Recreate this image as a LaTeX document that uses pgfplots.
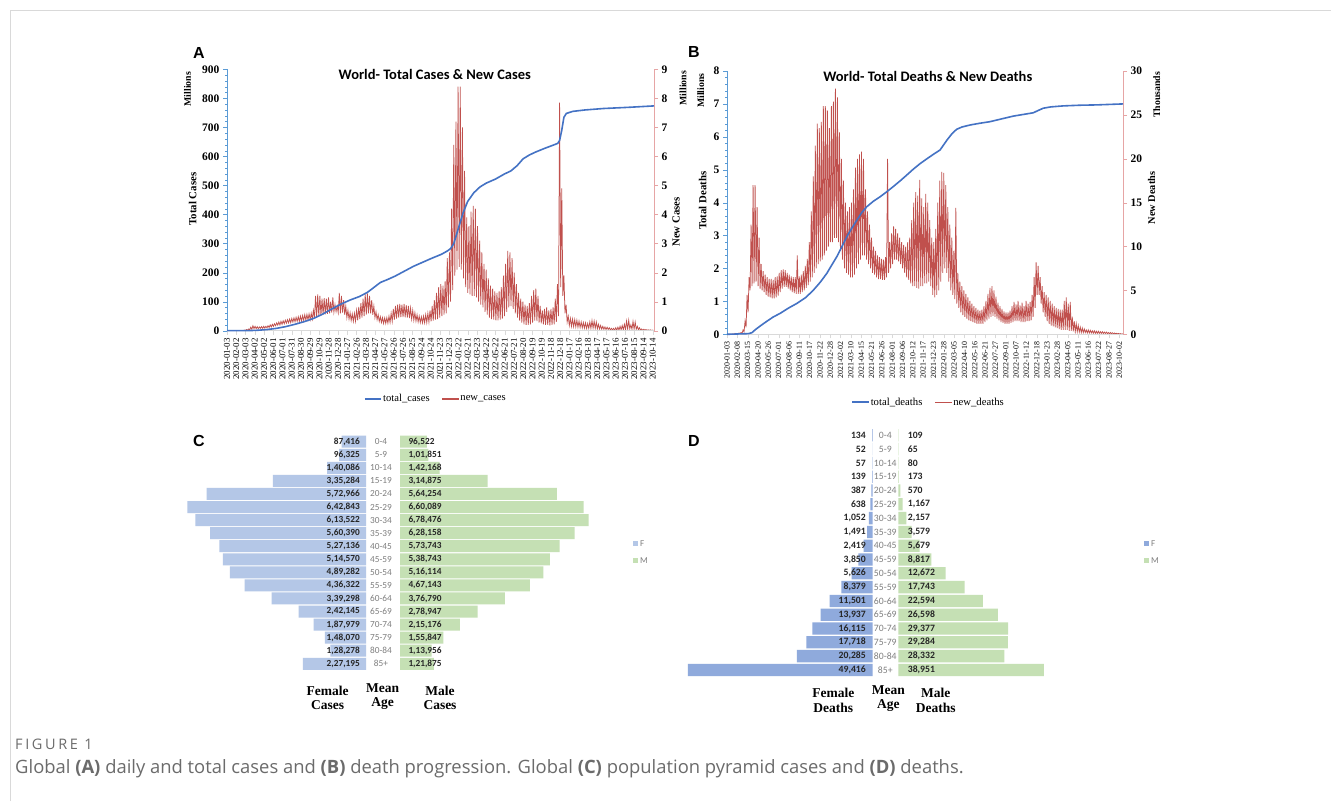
\documentclass[border=0pt]{standalone}
\usepackage{pgfplots}
\pgfplotsset{compat=1.18}
\usepackage{pgfplotstable}
\usepackage{fontspec}
\setmainfont{Liberation Serif}
\newfontfamily\carlito{Carlito}
\newfontfamily\arialf{Liberation Sans}
\newfontfamily\osans{Open Sans}
\newfontfamily\osanssp[LetterSpace=18]{Open Sans}
\definecolor{totblue}{HTML}{4472C4}
\definecolor{newred}{HTML}{C0504D}
\definecolor{laxis}{HTML}{5B9BD5}
\definecolor{raxis}{HTML}{E6A5A5}
\definecolor{gaxis}{HTML}{D9D9D9}
\definecolor{fblueC}{HTML}{B4C7E7}
\definecolor{fblueD}{HTML}{8FAADC}
\definecolor{mgreen}{HTML}{C5E0B4}
\definecolor{lbl}{HTML}{262626}
\definecolor{agegray}{HTML}{7F7F7F}
\definecolor{capgray}{HTML}{6B6B6B}

% weekly high / low of daily new cases (millions)
\pgfplotstableread[row sep=\\]{v\\
0\\0\\ 0\\0\\ 0\\0\\ 0\\0\\ 0\\0\\ 0\\0\\ 0.01\\0\\ 0.01\\0\\ 0.02\\0.01\\ 0.04\\0.02\\
0.06\\0.03\\ 0.12\\0.05\\ 0.17\\0.07\\ 0.15\\0.07\\ 0.14\\0.07\\ 0.13\\0.08\\ 0.14\\0.08\\ 0.15\\0.09\\ 0.15\\0.1\\ 0.17\\0.11\\
0.2\\0.13\\ 0.22\\0.15\\ 0.24\\0.17\\ 0.27\\0.19\\ 0.3\\0.2\\ 0.32\\0.22\\ 0.34\\0.24\\ 0.36\\0.26\\ 0.38\\0.27\\ 0.4\\0.28\\
0.42\\0.3\\ 0.44\\0.31\\ 0.46\\0.32\\ 0.48\\0.32\\ 0.5\\0.33\\ 0.52\\0.35\\ 0.55\\0.36\\ 0.56\\0.37\\ 0.58\\0.38\\ 0.6\\0.4\\
0.7\\0.43\\ 1.2\\0.46\\ 1.25\\0.5\\ 1.2\\0.52\\ 1.1\\0.55\\ 1.12\\0.56\\ 1.1\\0.58\\ 1.15\\0.6\\ 1.0\\0.62\\ 1.15\\0.64\\
0.9\\0.66\\ 0.85\\0.62\\ 1.3\\0.6\\ 1.2\\0.62\\ 1.05\\0.55\\ 0.85\\0.45\\ 0.7\\0.4\\ 0.62\\0.35\\ 0.58\\0.32\\ 0.6\\0.33\\
0.7\\0.36\\ 0.82\\0.4\\ 0.95\\0.45\\ 1.1\\0.5\\ 1.25\\0.55\\ 1.28\\0.6\\ 1.2\\0.6\\ 1.05\\0.55\\ 0.85\\0.45\\ 0.65\\0.38\\
0.55\\0.32\\ 0.48\\0.28\\ 0.45\\0.25\\ 0.44\\0.25\\ 0.45\\0.26\\ 0.5\\0.28\\ 0.6\\0.32\\ 0.75\\0.38\\ 0.85\\0.42\\ 0.9\\0.45\\
0.92\\0.47\\ 0.9\\0.47\\ 0.92\\0.46\\ 0.88\\0.45\\ 0.85\\0.43\\ 0.78\\0.4\\ 0.7\\0.36\\ 0.62\\0.33\\ 0.55\\0.3\\ 0.5\\0.28\\
0.48\\0.27\\ 0.5\\0.27\\ 0.55\\0.28\\ 0.6\\0.3\\ 0.7\\0.32\\ 0.85\\0.35\\ 1.05\\0.38\\ 1.3\\0.4\\ 1.5\\0.45\\ 1.6\\0.5\\
1.55\\0.55\\ 1.7\\0.6\\ 2.5\\0.8\\ 2.7\\1.0\\ 4.2\\1.4\\ 6.4\\1.9\\ 7.2\\2.1\\ 8.4\\2.2\\ 8.4\\2.1\\ 7.0\\1.8\\
5.5\\1.5\\ 3.9\\1.3\\ 3.6\\1.25\\ 4.1\\1.2\\ 4.3\\1.2\\ 4.2\\1.15\\ 3.6\\1.0\\ 3.1\\0.9\\ 2.7\\0.8\\ 2.3\\0.65\\
2.1\\0.55\\ 1.8\\0.45\\ 1.55\\0.4\\ 1.45\\0.38\\ 1.35\\0.36\\ 1.3\\0.36\\ 1.35\\0.38\\ 1.5\\0.42\\ 1.9\\0.5\\ 2.3\\0.65\\
2.75\\0.8\\ 2.7\\0.85\\ 2.5\\0.75\\ 2.0\\0.6\\ 1.6\\0.45\\ 1.3\\0.35\\ 1.1\\0.28\\ 1.0\\0.22\\ 0.9\\0.2\\ 0.85\\0.2\\
0.95\\0.22\\ 1.2\\0.28\\ 1.4\\0.35\\ 1.45\\0.33\\ 1.2\\0.28\\ 0.85\\0.25\\ 0.7\\0.22\\ 0.75\\0.2\\ 0.8\\0.2\\ 0.7\\0.18\\
0.75\\0.2\\ 0.8\\0.22\\ 1.1\\0.3\\ 1.6\\0.5\\ 7.85\\1.5\\ 4.9\\1.2\\ 1.9\\0.6\\ 0.9\\0.3\\ 0.5\\0.18\\ 0.42\\0.15\\
0.4\\0.14\\ 0.38\\0.13\\ 0.36\\0.12\\ 0.33\\0.11\\ 0.3\\0.1\\ 0.28\\0.09\\ 0.27\\0.08\\ 0.25\\0.08\\ 0.3\\0.08\\ 0.35\\0.09\\
0.33\\0.08\\ 0.3\\0.07\\ 0.22\\0.06\\ 0.18\\0.05\\ 0.15\\0.05\\ 0.13\\0.04\\ 0.12\\0.04\\ 0.1\\0.03\\ 0.08\\0.03\\ 0.08\\0.02\\
0.1\\0.02\\ 0.12\\0.02\\ 0.15\\0.03\\ 0.18\\0.03\\ 0.22\\0.04\\ 0.33\\0.05\\ 0.36\\0.06\\ 0.2\\0.05\\ 0.32\\0.05\\ 0.3\\0.05\\
0.15\\0.03\\ 0.1\\0.02\\ 0.06\\0.01\\ 0.05\\0.01\\ 0.04\\0.01\\ 0.03\\0.01\\ 0.03\\0.01\\ 0.02\\0.01\\
}\newA

% weekly high / low of daily new deaths (thousands)
\pgfplotstableread[row sep=\\]{v\\
0\\0\\ 0\\0\\ 0\\0\\ 0.05\\0\\ 0.1\\0.05\\ 0.1\\0.05\\ 0.15\\0.1\\ 0.2\\0.1\\ 0.5\\0.3\\ 1.5\\0.8\\
4.5\\2.5\\ 6.5\\5.0\\ 12.5\\5.5\\ 17.0\\5.8\\ 17.0\\6.0\\ 14.5\\5.5\\ 11.0\\5.2\\ 8.0\\5.0\\ 7.2\\4.8\\ 6.8\\4.5\\
6.5\\4.3\\ 6.3\\4.2\\ 6.3\\4.1\\ 6.2\\4.1\\ 6.5\\4.2\\ 6.6\\4.4\\ 7.0\\4.8\\ 7.3\\5.2\\ 7.4\\5.4\\ 7.3\\5.4\\
7.0\\5.2\\ 6.8\\5.0\\ 6.6\\4.8\\ 6.5\\4.7\\ 6.5\\4.6\\ 9.0\\4.6\\ 6.6\\4.6\\ 6.8\\4.8\\ 7.2\\5.0\\ 7.8\\5.3\\
8.6\\5.6\\ 10.5\\6.0\\ 14.0\\6.5\\ 18.0\\7.0\\ 21.5\\7.5\\ 24.0\\8.0\\ 23.5\\8.3\\ 24.2\\8.5\\ 26.0\\9.0\\ 26.0\\9.5\\
25.5\\10.0\\ 23.5\\10.5\\ 26.0\\10.5\\ 26.5\\11.0\\ 28.0\\11.0\\ 27.0\\10.5\\ 23.0\\9.5\\ 20.0\\8.5\\ 17.5\\7.5\\ 15.0\\7.0\\
14.0\\6.8\\ 14.5\\6.5\\ 15.0\\6.5\\ 16.5\\6.8\\ 19.0\\7.5\\ 20.0\\8.0\\ 20.5\\8.5\\ 20.8\\9.0\\ 20.0\\9.0\\ 16.5\\8.5\\
14.0\\8.0\\ 12.5\\7.5\\ 11.0\\7.0\\ 10.0\\6.8\\ 9.5\\6.5\\ 9.0\\6.3\\ 8.8\\6.3\\ 8.6\\6.2\\ 8.5\\6.2\\ 8.8\\6.5\\
20.0\\7.0\\ 10.5\\7.5\\ 11.5\\8.0\\ 12.3\\8.5\\ 12.0\\8.5\\ 11.5\\8.3\\ 11.0\\8.0\\ 10.5\\7.5\\ 10.2\\7.0\\ 10.0\\6.5\\
10.5\\6.2\\ 11.0\\5.8\\ 13.0\\5.5\\ 15.0\\5.5\\ 16.2\\5.3\\ 15.8\\5.2\\ 17.6\\5.5\\ 15.5\\5.5\\ 14.5\\5.8\\ 16.0\\5.8\\
15.0\\6.0\\ 13.0\\5.5\\ 11.0\\4.5\\ 10.5\\4.2\\ 12.0\\4.5\\ 15.0\\5.0\\ 17.5\\6.0\\ 18.5\\7.0\\ 18.4\\7.5\\ 17.0\\7.0\\
14.5\\6.0\\ 12.5\\5.0\\ 11.0\\4.5\\ 9.5\\4.0\\ 14.4\\3.5\\ 7.0\\3.0\\ 6.0\\2.5\\ 5.5\\2.2\\ 5.0\\2.0\\ 4.6\\1.8\\
4.2\\1.6\\ 3.8\\1.5\\ 3.5\\1.4\\ 3.2\\1.3\\ 3.0\\1.2\\ 2.8\\1.2\\ 2.7\\1.2\\ 2.8\\1.2\\ 3.2\\1.4\\ 3.8\\1.6\\
4.6\\1.8\\ 5.3\\2.0\\ 5.5\\2.1\\ 5.0\\2.0\\ 4.3\\1.8\\ 3.6\\1.6\\ 3.2\\1.4\\ 2.9\\1.3\\ 2.6\\1.2\\ 2.5\\1.2\\
2.5\\1.2\\ 2.7\\1.3\\ 3.2\\1.4\\ 3.7\\1.5\\ 3.4\\1.5\\ 3.8\\1.5\\ 3.3\\1.4\\ 3.6\\1.4\\ 3.2\\1.4\\ 3.8\\1.5\\
3.5\\1.5\\ 3.7\\1.6\\ 4.5\\2.0\\ 6.5\\3.0\\ 8.2\\4.5\\ 7.8\\4.5\\ 6.5\\3.5\\ 5.5\\2.5\\ 4.8\\2.0\\ 4.5\\1.5\\
4.2\\1.2\\ 3.8\\1.0\\ 3.5\\0.9\\ 3.2\\0.8\\ 3.0\\0.7\\ 2.9\\0.6\\ 2.8\\0.5\\ 2.8\\0.5\\ 3.8\\0.5\\ 4.2\\0.5\\
3.5\\0.4\\ 3.7\\0.4\\ 2.0\\0.35\\ 1.5\\0.3\\ 1.2\\0.3\\ 1.0\\0.25\\ 0.8\\0.2\\ 0.7\\0.2\\ 0.6\\0.2\\ 0.5\\0.15\\
0.5\\0.15\\ 0.45\\0.15\\ 0.4\\0.12\\ 0.4\\0.12\\ 0.35\\0.1\\ 0.35\\0.1\\ 0.3\\0.1\\ 0.3\\0.1\\ 0.25\\0.08\\ 0.25\\0.08\\
0.2\\0.06\\ 0.2\\0.06\\ 0.18\\0.05\\ 0.15\\0.05\\ 0.12\\0.04\\ 0.1\\0.04\\ 0.08\\0.03\\ 0.05\\0.02\\
}\newB

\pgfplotstableread{
d v
0 0
70 0.3
100 1.5
130 4
160 8
190 14
220 22
250 31
280 42
310 57
340 75
370 92
400 106
430 118
455 132
475 148
497 166
520 176
545 188
575 205
605 222
635 236
665 250
695 263
715 275
725 283
735 300
745 335
755 370
765 405
780 445
800 475
820 495
840 508
870 522
900 540
920 550
940 568
960 592
980 605
1000 615
1030 628
1060 640
1072 645
1078 655
1085 690
1092 735
1100 748
1120 755
1160 760
1220 765
1300 769
1384 774
}\totA

\pgfplotstableread{
d v
0 0
75 0.02
87 0.05
100 0.15
128 0.33
160 0.52
186 0.64
215 0.8
244 0.94
275 1.12
302 1.35
325 1.58
348 1.85
365 2.1
383 2.36
400 2.65
418 2.97
435 3.22
453 3.47
470 3.7
488 3.88
510 4.04
534 4.18
557 4.33
580 4.49
605 4.67
627 4.84
650 5.02
674 5.19
700 5.35
720 5.47
743 5.6
755 5.75
767 5.9
785 6.1
801 6.23
820 6.3
848 6.36
880 6.41
917 6.46
960 6.55
999 6.63
1040 6.69
1068 6.73
1085 6.8
1103 6.87
1130 6.91
1173 6.94
1230 6.96
1289 6.97
1381 7.0
}\totB

\pgfplotstableread{
r age f m fl ml
0 0-4 87416 96522 87,416 96,522
1 5-9 96325 101851 96,325 1,01,851
2 10-14 140086 142168 1,40,086 1,42,168
3 15-19 335284 314875 3,35,284 3,14,875
4 20-24 572966 564254 5,72,966 5,64,254
5 25-29 642843 660089 6,42,843 6,60,089
6 30-34 613522 678476 6,13,522 6,78,476
7 35-39 560390 628158 5,60,390 6,28,158
8 40-45 527136 573743 5,27,136 5,73,743
9 45-59 514570 538743 5,14,570 5,38,743
10 50-54 489282 516114 4,89,282 5,16,114
11 55-59 436322 467143 4,36,322 4,67,143
12 60-64 339298 376790 3,39,298 3,76,790
13 65-69 242145 278947 2,42,145 2,78,947
14 70-74 187979 215176 1,87,979 2,15,176
15 75-79 148070 155847 1,48,070 1,55,847
16 80-84 128278 113956 1,28,278 1,13,956
17 85+ 227195 121875 2,27,195 1,21,875
}\pyrC

\pgfplotstableread{
r age f m fl ml
0 0-4 134 109 134 109
1 5-9 52 65 52 65
2 10-14 57 80 57 80
3 15-19 139 173 139 173
4 20-24 387 570 387 570
5 25-29 638 1167 638 1,167
6 30-34 1052 2157 1,052 2,157
7 35-39 1491 3579 1,491 3,579
8 40-45 2419 5679 2,419 5,679
9 45-59 3850 8817 3,850 8,817
10 50-54 5626 12672 5,626 12,672
11 55-59 8379 17743 8,379 17,743
12 60-64 11501 22594 11,501 22,594
13 65-69 13937 26598 13,937 26,598
14 70-74 16115 29377 16,115 29,377
15 75-79 17718 29284 17,718 29,284
16 80-84 20285 28332 20,285 28,332
17 85+ 49416 38951 49,416 38,951
}\pyrD

\pgfplotsset{
  tsaxis/.style={scale only axis, tick align=outside, major tick length=4pt, minor tick length=2pt,
    /pgf/number format/assume math mode=true,
    yticklabel style={font=\bfseries\fontsize{11.5}{11.5}\selectfont}},
  pyr/.style={scale only axis, hide axis, clip=false, xmin=0, ymin=-0.5, ymax=17.5, y dir=reverse},
}

\begin{document}
\begin{tikzpicture}
\path[use as bounding box] (0,0) rectangle (1331pt,801pt);
\fill[white] (0,0) rectangle (1331pt,801pt);
\draw[gaxis, line width=0.8pt] (10pt,0pt) -- (10pt,791pt) -- (1331pt,791pt);

% ================= Panel A =================
\begin{axis}[tsaxis, at={(227pt,470.3pt)}, anchor=south west, width=427pt, height=261.4pt,
  xmin=0, xmax=1384, ymin=0, ymax=9,
  axis x line=none, axis y line*=right,
  y axis line style={raxis, line width=0.8pt}, ytick={0,1,...,9}, ytick style={raxis}]
\addplot[newred, line width=0.75pt] table[x expr=\coordindex*3.5, y=v]{\newA};
\end{axis}
\begin{axis}[tsaxis, at={(227pt,470.3pt)}, anchor=south west, width=427pt, height=261.4pt,
  xmin=0, xmax=1384, ymin=0, ymax=900,
  axis y line*=left, axis x line*=bottom,
  y axis line style={laxis, line width=0.8pt}, x axis line style={gaxis, line width=0.8pt},
  ytick={0,100,...,900}, minor y tick num=4, ytick style={laxis}, minor y tick style={laxis},
  xtick={0,30,...,1380}, xtick style={gaxis},
  xticklabels={2020-01-03,2020-02-02,2020-03-03,2020-04-02,2020-05-02,2020-06-01,2020-07-01,2020-07-31,2020-08-30,2020-09-29,2020-10-29,2020-11-28,2020-12-28,2021-01-27,2021-02-26,2021-03-28,2021-04-27,2021-05-27,2021-06-26,2021-07-26,2021-08-25,2021-09-24,2021-10-24,2021-11-23,2021-12-23,2022-01-22,2022-02-21,2022-03-23,2022-04-22,2022-05-22,2022-06-21,2022-07-21,2022-08-20,2022-09-19,2022-10-19,2022-11-18,2022-12-18,2023-01-17,2023-02-16,2023-03-18,2023-04-17,2023-05-17,2023-06-16,2023-07-16,2023-08-15,2023-09-14,2023-10-14},
  xticklabel style={rotate=90, anchor=east, font=\fontsize{8.9}{8.9}\selectfont},
  legend style={at={(0.488,-0.261)}, anchor=center, draw=none, fill=none, legend columns=2,
    font=\fontsize{10.6}{10.6}\selectfont, /tikz/every even column/.append style={column sep=11pt},
    nodes={inner xsep=1pt}},
  legend image code/.code={\draw[#1] (0pt,0pt) -- (16.6pt,0pt);},
  clip=false]
\addplot[totblue, line width=1.6pt] table[x=d, y=v]{\totA};
\addlegendentry{total\_cases}
\addlegendimage{newred, line width=1.2pt}
\addlegendentry{new\_cases}
\node[font=\carlito\bfseries\fontsize{14.5}{14.5}\selectfont] at (axis description cs:0.4867,0.982) {World- Total Cases \& New Cases};
\node[rotate=90, font=\bfseries\fontsize{10.8}{10.8}\selectfont] at (axis description cs:-0.0806,0.504) {Total Cases};
\node[rotate=90, font=\bfseries\fontsize{9.8}{9.8}\selectfont] at (axis description cs:-0.0923,0.924) {Millions};
\node[rotate=90, font=\bfseries\fontsize{10.8}{10.8}\selectfont] at (axis description cs:1.0515,0.416) {New Cases};
\node[rotate=90, font=\bfseries\fontsize{9.8}{9.8}\selectfont] at (axis description cs:1.068,0.928) {Millions};
\end{axis}
\node[font=\arialf\bfseries\fontsize{16}{16}\selectfont] at (199pt,748.3pt) {A};

% ================= Panel B =================
\begin{axis}[tsaxis, at={(727pt,466.7pt)}, anchor=south west, width=396pt, height=263.3pt,
  xmin=0, xmax=1381, ymin=0, ymax=30,
  axis x line=none, axis y line*=right,
  y axis line style={raxis, line width=0.8pt}, ytick={0,5,...,30}, ytick style={raxis}]
\addplot[newred, line width=0.75pt] table[x expr=\coordindex*3.5, y=v]{\newB};
\end{axis}
\begin{axis}[tsaxis, at={(727pt,466.7pt)}, anchor=south west, width=396pt, height=263.3pt,
  xmin=0, xmax=1381, ymin=0, ymax=8,
  axis y line*=left, axis x line*=bottom,
  y axis line style={laxis, line width=0.8pt}, x axis line style={gaxis, line width=0.8pt},
  ytick={0,1,...,8}, minor y tick num=4, ytick style={laxis}, minor y tick style={laxis},
  xtick={0,36,...,1368}, xtick style={gaxis},
  xticklabels={2020-01-03,2020-02-08,2020-03-15,2020-04-20,2020-05-26,2020-07-01,2020-08-06,2020-09-11,2020-10-17,2020-11-22,2020-12-28,2021-02-02,2021-03-10,2021-04-15,2021-05-21,2021-06-26,2021-08-01,2021-09-06,2021-10-12,2021-11-17,2021-12-23,2022-01-28,2022-03-05,2022-04-10,2022-05-16,2022-06-21,2022-07-27,2022-09-01,2022-10-07,2022-11-12,2022-12-18,2023-01-23,2023-02-28,2023-04-05,2023-05-11,2023-06-16,2023-07-22,2023-08-27,2023-10-02},
  xticklabel style={rotate=90, anchor=east, font=\fontsize{7.9}{7.9}\selectfont},
  legend style={at={(0.508,-0.258)}, anchor=center, draw=none, fill=none, legend columns=2,
    font=\fontsize{10.7}{10.7}\selectfont, /tikz/every even column/.append style={column sep=11pt},
    nodes={inner xsep=1pt}},
  legend image code/.code={\draw[#1] (0pt,0pt) -- (16.6pt,0pt);},
  clip=false]
\addplot[totblue, line width=1.6pt] table[x=d, y=v]{\totB};
\addlegendentry{total\_deaths}
\addlegendimage{newred, line width=1.2pt}
\addlegendentry{new\_deaths}
\node[font=\carlito\bfseries\fontsize{14.5}{14.5}\selectfont] at (axis description cs:0.507,0.98) {World- Total Deaths \& New Deaths};
\node[rotate=90, font=\bfseries\fontsize{10.8}{10.8}\selectfont] at (axis description cs:-0.0614,0.507) {Total Deaths};
\node[rotate=90, font=\bfseries\fontsize{9.8}{9.8}\selectfont] at (axis description cs:-0.0664,0.925) {Millions};
\node[rotate=90, font=\bfseries\fontsize{10.3}{10.3}\selectfont] at (axis description cs:1.0725,0.518) {New Deaths};
\node[rotate=90, font=\bfseries\fontsize{9.8}{9.8}\selectfont] at (axis description cs:1.085,0.909) {Thousands};
\end{axis}
\node[font=\arialf\bfseries\fontsize{16}{16}\selectfont] at (694pt,748.7pt) {B};

% ================= Panel C =================
\begin{axis}[pyr, at={(366pt,130.7pt)}, anchor=south east, width=194.6pt, height=235.1pt,
  x dir=reverse, xmax=700000]
\addplot[xbar, fill=fblueC, draw=none, bar width=12pt, bar shift=0pt] table[x=f, y=r]{\pyrC};
\addplot[draw=none, mark=none, nodes near coords, point meta=explicit symbolic,
  every node near coord/.append style={anchor=east, xshift=-6pt, inner sep=0pt,
    font=\carlito\bfseries\fontsize{9.3}{9.3}\selectfont, text=lbl}]
  table[x expr=0, y=r, meta=fl]{\pyrC};
\end{axis}
\begin{axis}[pyr, at={(400pt,130.7pt)}, anchor=south west, width=194.6pt, height=235.1pt,
  xmax=700000,
  legend style={at={(1.197,0.503)}, anchor=west, draw=none, fill=none,
    font=\carlito\fontsize{9}{9}\selectfont, text=agegray, row sep=11pt, inner sep=0pt,
    nodes={inner sep=0pt, inner xsep=2pt, text height=6pt, text depth=0pt}},
  legend cell align=left,
  legend image code/.code={\path[#1, draw=none] (0pt,-2.5pt) rectangle (5pt,2.5pt);}]
\addplot[xbar, fill=mgreen, draw=none, bar width=12pt, bar shift=0pt, forget plot] table[x=m, y=r]{\pyrC};
\addplot[draw=none, mark=none, forget plot, nodes near coords, point meta=explicit symbolic,
  every node near coord/.append style={anchor=west, xshift=8.3pt, inner sep=0pt,
    font=\carlito\bfseries\fontsize{9.3}{9.3}\selectfont, text=lbl}]
  table[x expr=0, y=r, meta=ml]{\pyrC};
\addplot[draw=none, mark=none, forget plot, nodes near coords, point meta=explicit symbolic,
  every node near coord/.append style={anchor=center, xshift=-19pt, inner sep=0pt,
    font=\carlito\fontsize{9.3}{9.3}\selectfont, text=agegray}]
  table[x expr=0, y=r, meta=age]{\pyrC};
\addlegendimage{fill=fblueC, draw=none}
\addlegendentry{F}
\addlegendimage{fill=mgreen, draw=none}
\addlegendentry{M}
\end{axis}
\node[font=\arialf\bfseries\fontsize{16}{16}\selectfont] at (199pt,360.3pt) {C};
\node[font=\bfseries\fontsize{13.5}{14.5}\selectfont, align=center] at (327.7pt,103.2pt) {Female\\Cases};
\node[font=\bfseries\fontsize{13.5}{14.5}\selectfont, align=center] at (382.7pt,104.2pt) {Mean\\Age};
\node[font=\bfseries\fontsize{13.5}{14.5}\selectfont, align=center] at (440pt,103.2pt) {Male\\Cases};

% ================= Panel D =================
\begin{axis}[pyr, at={(872.7pt,124.2pt)}, anchor=south east, width=205.7pt, height=248.4pt,
  x dir=reverse, xmax=55000]
\addplot[xbar, fill=fblueD, draw=none, bar width=12.3pt, bar shift=0pt] table[x=f, y=r]{\pyrD};
\addplot[draw=none, mark=none, nodes near coords, point meta=explicit symbolic,
  every node near coord/.append style={anchor=east, xshift=-6.7pt, inner sep=0pt,
    font=\carlito\bfseries\fontsize{9.7}{9.7}\selectfont, text=lbl}]
  table[x expr=0, y=r, meta=fl]{\pyrD};
\end{axis}
\begin{axis}[pyr, at={(898.3pt,124.2pt)}, anchor=south west, width=205.7pt, height=248.4pt,
  xmax=55000,
  legend style={at={(1.194,0.504)}, anchor=west, draw=none, fill=none,
    font=\carlito\fontsize{9}{9}\selectfont, text=agegray, row sep=11pt, inner sep=0pt,
    nodes={inner sep=0pt, inner xsep=2pt, text height=6pt, text depth=0pt}},
  legend cell align=left,
  legend image code/.code={\path[#1, draw=none] (0pt,-2.5pt) rectangle (5pt,2.5pt);}]
\addplot[xbar, fill=mgreen, draw=none, bar width=12.3pt, bar shift=0pt, forget plot] table[x=m, y=r]{\pyrD};
\addplot[draw=none, mark=none, forget plot, nodes near coords, point meta=explicit symbolic,
  every node near coord/.append style={anchor=west, xshift=9.4pt, inner sep=0pt,
    font=\carlito\bfseries\fontsize{9.7}{9.7}\selectfont, text=lbl}]
  table[x expr=0, y=r, meta=ml]{\pyrD};
\addplot[draw=none, mark=none, forget plot, nodes near coords, point meta=explicit symbolic,
  every node near coord/.append style={anchor=center, xshift=-13pt, inner sep=0pt,
    font=\carlito\fontsize{9.7}{9.7}\selectfont, text=agegray}]
  table[x expr=0, y=r, meta=age]{\pyrD};
\addlegendimage{fill=fblueD, draw=none}
\addlegendentry{F}
\addlegendimage{fill=mgreen, draw=none}
\addlegendentry{M}
\end{axis}
\node[font=\arialf\bfseries\fontsize{16}{16}\selectfont] at (694pt,360.3pt) {D};
\node[font=\bfseries\fontsize{13.5}{14.5}\selectfont, align=center] at (833.3pt,100.8pt) {Female\\Deaths};
\node[font=\bfseries\fontsize{13.5}{14.5}\selectfont, align=center] at (888.3pt,102.5pt) {Mean\\Age};
\node[font=\bfseries\fontsize{13.5}{14.5}\selectfont, align=center] at (935.7pt,100.8pt) {Male\\Deaths};

% ================= Caption =================
\node[anchor=base west, inner sep=0pt, font=\osanssp\fontsize{14.5}{14.5}\selectfont, text=capgray] at (15pt,52pt) {FIGURE 1};
\node[anchor=base west, inner sep=0pt, font=\osans\fontsize{18.4}{18.4}\selectfont, text=capgray] at (15pt,28pt)
  {Global \textbf{(A)} daily and total cases and \textbf{(B)} death progression. Global \textbf{(C)} population pyramid cases and \textbf{(D)} deaths.};
\end{tikzpicture}
\end{document}
